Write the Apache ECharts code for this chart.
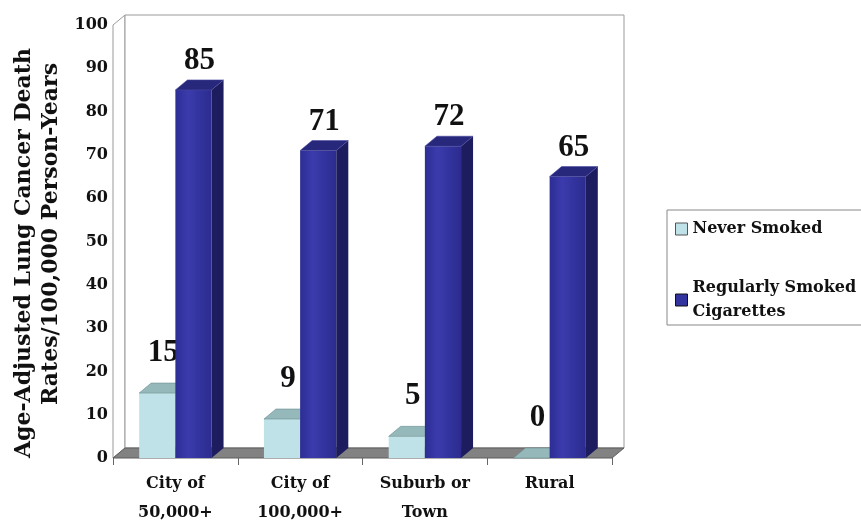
<!DOCTYPE html>
<html>
<head>
<meta charset="utf-8">
<script src="https://cdn.jsdelivr.net/npm/echarts@6/dist/echarts.min.js"></script>
<style>
  html, body { margin: 0; padding: 0; background: #fff; }
  #chart { width: 861px; height: 520px; }
</style>
</head>
<body>
<div id="chart"></div>
<script>
// data
const categories = ["City of\n50,000+", "City of\n100,000+", "Suburb or\nTown", "Rural"];
const neverSmoked = [15, 9, 5, 0];
const regularlySmoked = [85, 71, 72, 65];
const yMin = 0, yMax = 100, yStep = 10;
const seriesNames = ["Never Smoked", "Regularly Smoked\nCigarettes"];
const yTitle = ["Age-Adjusted Lung Cancer Death", "Rates/100,000 Person-Years"];

const DX = 12, DY = -10; // fake 3d depth
const serif = '"DejaVu Serif", serif';
const times = '"Liberation Serif", "Times New Roman", serif';

// back wall, side wall and floor, from the grid rect
function renderWalls(params, api) {
  const r = params.coordSys;
  const x = r.x, y = r.y, w = r.width, h = r.height;
  return {
    type: "group",
    children: [
      { type: "polygon", shape: { points: [[x, y + h], [x, y], [x + DX, y + DY], [x + DX, y + h + DY]] },
        style: { fill: "#fff", stroke: "#9a9a9a", lineWidth: 1 } },
      { type: "rect", shape: { x: x + DX, y: y + DY, width: w, height: h },
        style: { fill: "#fff", stroke: "#9a9a9a", lineWidth: 1 } },
      { type: "polygon", shape: { points: [[x, y + h], [x + w, y + h], [x + w + DX, y + h + DY], [x + DX, y + h + DY]] },
        style: { fill: "#828282", stroke: "#5c5c5c", lineWidth: 1 } }
    ]
  };
}

function makeBar(slot, c, labelGap) {
  return function (params, api) {
    const i = api.value(0), v = api.value(1);
    const p0 = api.coord([i, 0]);
    const p1 = api.coord([i, v]);
    const bw = api.size([1, 0])[0] * 0.29;
    const x0 = p0[0] + slot * bw, x1 = x0 + bw;
    const yb = p0[1], yt = p1[1];
    const kids = [];
    if (v > 0) {
      kids.push({ type: "rect", shape: { x: x0, y: yt, width: bw, height: yb - yt },
        style: { fill: c.front } });
      kids.push({ type: "polygon", shape: { points: [[x1, yb], [x1, yt], [x1 + DX, yt + DY], [x1 + DX, yb + DY]] },
        style: { fill: c.side } });
    }
    kids.push({ type: "polygon", shape: { points: [[x0, yt], [x1, yt], [x1 + DX, yt + DY], [x0 + DX, yt + DY]] },
      style: { fill: c.top, stroke: c.edge, lineWidth: 0.6 } });
    kids.push({ type: "text", x: (x0 + x1 + DX) / 2, y: yt - labelGap,
      style: { text: String(v), font: "bold 31px " + times, fill: "#111",
        align: "center", verticalAlign: "middle", textAlign: "center", textVerticalAlign: "middle" } });
    return { type: "group", children: kids };
  };
}

const lightColors = { front: "#bfe2e8", side: "#8fb5ba", top: "#95b8ba", edge: "#6d8d8f" };
const darkColors = {
  front: new echarts.graphic.LinearGradient(0, 0, 1, 0, [
    { offset: 0, color: "#2d2d95" },
    { offset: 0.35, color: "#3b3bad" },
    { offset: 1, color: "#2b2b8f" }
  ]),
  side: "#1c1c5e",
  top: "#27277c",
  edge: "#4a4aa0"
};

const chart = echarts.init(document.getElementById("chart"));
chart.setOption({
  animation: false,
  grid: { left: 113, top: 25, width: 499, height: 433, outerBoundsMode: "none", containLabel: false },
  xAxis: {
    type: "category",
    data: categories,
    axisLine: { show: false },
    axisTick: { show: true, length: 7, interval: 0, lineStyle: { color: "#666" } },
    axisLabel: { interval: 0, margin: 11, color: "#111", fontFamily: serif, fontWeight: "bold",
      fontSize: 16, lineHeight: 29 }
  },
  yAxis: {
    type: "value",
    min: yMin, max: yMax, interval: yStep,
    axisLine: { show: true, lineStyle: { color: "#9a9a9a" } },
    axisTick: { show: false },
    splitLine: { show: false },
    axisLabel: { margin: 5, color: "#111", fontFamily: serif, fontWeight: "bold", fontSize: 16 }
  },
  legend: {
    orient: "vertical",
    left: 667, top: 210,
    itemWidth: 12, itemHeight: 12, itemGap: 35,
    padding: [7, 40, 1, 8],
    borderColor: "#888", borderWidth: 1,
    textStyle: { color: "#111", fontFamily: serif, fontWeight: "bold", fontSize: 16, lineHeight: 24 },
    data: [
      { name: seriesNames[0], icon: "rect", itemStyle: { color: "#bfe2e8", borderColor: "#555", borderWidth: 1 } },
      { name: seriesNames[1], icon: "rect", itemStyle: { color: "#33339f", borderColor: "#111", borderWidth: 1 } }
    ]
  },
  graphic: [
    { type: "text", x: 24, y: 253, rotation: Math.PI / 2,
      style: { text: yTitle[0], font: "bold 22px " + serif, fill: "#111", align: "center", verticalAlign: "middle" } },
    { type: "text", x: 51, y: 234, rotation: Math.PI / 2,
      style: { text: yTitle[1], font: "bold 22px " + serif, fill: "#111", align: "center", verticalAlign: "middle" } }
  ],
  series: [
    { type: "custom", name: "walls", z: 1, silent: true, renderItem: renderWalls, data: [[0, 0]] },
    { type: "custom", name: seriesNames[0], z: 2, renderItem: makeBar(-1, lightColors, 40),
      itemStyle: { color: "#bfe2e8" }, encode: { x: 0, y: 1 },
      data: neverSmoked.map((v, i) => [i, v]) },
    { type: "custom", name: seriesNames[1], z: 3, renderItem: makeBar(0, darkColors, 29),
      itemStyle: { color: "#33339f" }, encode: { x: 0, y: 1 },
      data: regularlySmoked.map((v, i) => [i, v]) }
  ]
});
</script>
</body>
</html>
